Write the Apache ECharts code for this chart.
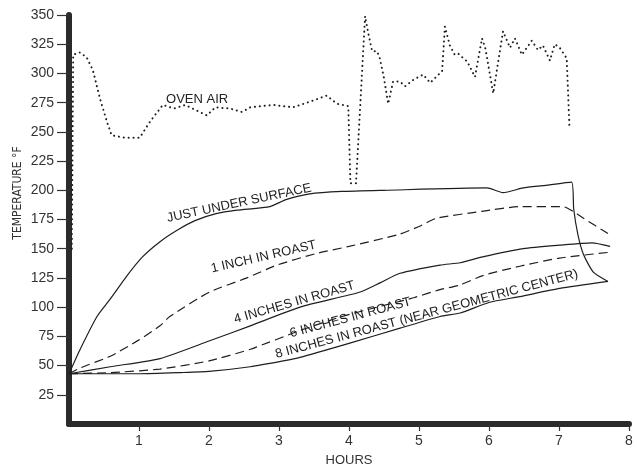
<!DOCTYPE html>
<html>
<head>
<meta charset="utf-8">
<script src="https://cdn.jsdelivr.net/npm/echarts@6/dist/echarts.min.js"></script>
<style>
  html, body { margin: 0; padding: 0; background: #fff; }
  #grafica { width: 637px; height: 470px; }
</style>
</head>
<body>
<div id="grafica"></div>
<script>
// valores: [horas, temperatura F]
const horasTicks = [1, 2, 3, 4, 5, 6, 7, 8];
const tempTicks = [25, 50, 75, 100, 125, 150, 175, 200, 225, 250, 275, 300, 325, 350];

const hornoAire = [[0.04,150],[0.06,316],[0.15,318],[0.25,314],[0.34,303],[0.44,279],[0.54,259],[0.61,247],[0.8,245],[1.01,245],[1.16,259],[1.34,273],[1.5,270],[1.66,273],[1.97,264],[2.09,271],[2.3,270],[2.47,267],[2.59,271],[2.92,273],[3.2,271],[3.45,276],[3.68,281],[3.83,274],[3.99,272],[4.02,206],[4.1,206],[4.23,349],[4.27,336],[4.33,319],[4.4,319],[4.44,313],[4.5,296],[4.56,274],[4.63,293],[4.73,293],[4.8,289],[4.93,295],[5.06,299],[5.16,292],[5.33,302],[5.37,340],[5.44,324],[5.51,316],[5.56,317],[5.69,310],[5.8,297],[5.9,330],[5.95,321],[6.06,283],[6.2,336],[6.3,322],[6.37,330],[6.47,316],[6.61,328],[6.7,320],[6.77,324],[6.87,311],[6.94,325],[7.01,322],[7.11,313],[7.15,253]];
const bajoSuperficie = [[0,43],[0.16,64],[0.4,92],[0.59,107],[0.83,127],[1.05,143],[1.3,156],[1.55,166],[1.8,174],[2.1,180],[2.4,183],[2.87,186],[3.1,192],[3.44,197],[3.9,199],[4.5,200],[5.97,202],[6.2,198],[6.49,202],[6.77,204],[7.18,207],[7.21,184],[7.27,162],[7.35,145],[7.49,130],[7.7,122]];
const unaPulgada = [[0,43],[0.16,48],[0.59,58],[1.0,72],[1.3,84],[1.44,92],[2.01,113],[2.54,125],[2.97,136],[3.54,146],[4.0,152],[4.7,162],[5.0,169],[5.25,176],[5.9,182],[6.44,186],[7.06,186],[7.2,182],[7.35,176],[7.7,163]];
const cuatroPulgadas = [[0,43],[0.59,49],[1.3,56],[2.0,71],[2.59,84],[3.3,100],[4.16,113],[4.45,121],[4.73,129],[5.3,136],[5.59,138],[5.91,143],[6.49,150],[7.01,153],[7.47,155],[7.73,152]];
const seisPulgadas = [[0,43],[0.59,44],[1.3,47],[2.0,54],[2.59,64],[3.3,80],[3.9,92],[4.4,100],[4.92,108],[5.3,115],[5.59,119],[5.91,127],[6.44,135],[7.01,142],[7.73,147]];
const ochoPulgadas = [[0,43],[1.0,43],[1.6,44],[2.0,45],[2.59,49],[3.06,54],[3.3,57],[4.0,69],[4.73,82],[5.3,92],[5.59,95],[6.0,104],[6.44,109],[7.01,116],[7.7,122]];

// etiquetas dentro del grafico (centro en horas/temperatura, giro en grados)
const etiquetas = [
    { texto: 'OVEN AIR', en: [1.83, 278], giro: 0 },
    { texto: 'JUST UNDER SURFACE', en: [2.43, 189], giro: 12 },
    { texto: '1 INCH IN ROAST', en: [2.78, 143], giro: 13 },
    { texto: '4 INCHES IN ROAST', en: [3.22, 104], giro: 16 },
    { texto: '6 INCHES IN ROAST', en: [4.02, 91], giro: 15 },
    { texto: '8 INCHES IN ROAST (NEAR GEOMETRIC CENTER)', en: [5.11, 94], giro: 15 }
];

const negro = '#1e1e1e';
const fuente = '"Liberation Sans", Arial, sans-serif';

const linea = (datos, tipo) => ({
    type: 'line',
    data: datos,
    symbol: 'none',
    smooth: 0.2,
    lineStyle: { color: negro, width: 1.2, type: tipo },
    z: 3
});

const initGrafica = () => {
    const myChart = echarts.init(document.getElementById('grafica'));
    myChart.setOption({
        animation: false,
        grid: { left: 69, right: 8, top: 15, bottom: 46, containLabel: false, outerBoundsMode: 'none' },
        xAxis: {
            type: 'value', min: 0, max: 8, interval: 1,
            offset: 3,
            name: 'HOURS', nameLocation: 'middle', nameGap: 27,
            nameTextStyle: { color: '#333', fontSize: 13, fontFamily: fuente },
            axisLine: { lineStyle: { color: '#2b2b2b', width: 6 } },
            axisTick: { show: true, length: 7, customValues: horasTicks, lineStyle: { color: '#333', width: 1.2 } },
            axisLabel: { customValues: horasTicks, color: '#333', fontSize: 14, fontFamily: fuente, margin: 7 },
            splitLine: { show: false }
        },
        yAxis: {
            type: 'value', min: 0, max: 350, interval: 25,
            axisLine: { show: true, lineStyle: { color: '#2b2b2b', width: 6 } },
            axisTick: { show: true, length: 12, customValues: tempTicks, lineStyle: { color: '#333', width: 1.2 } },
            axisLabel: { customValues: tempTicks, color: '#333', fontSize: 14, fontFamily: fuente, margin: 15 },
            splitLine: { show: false }
        },
        series: [
            {
                type: 'line',
                data: hornoAire,
                symbol: 'none',
                lineStyle: { color: negro, width: 2, type: [0.1, 4.8], cap: 'round' },
                z: 3
            },
            linea(bajoSuperficie, 'solid'),
            linea(unaPulgada, [9, 5]),
            linea(cuatroPulgadas, 'solid'),
            linea(seisPulgadas, [9, 5]),
            linea(ochoPulgadas, 'solid')
        ]
    });

    const textos = etiquetas.map(e => {
        const p = myChart.convertToPixel({ gridIndex: 0 }, e.en);
        return {
            type: 'text', x: p[0], y: p[1], rotation: e.giro * Math.PI / 180,
            style: { text: e.texto, fill: '#222', fontSize: 13, fontFamily: fuente, align: 'center', verticalAlign: 'middle' },
            z: 10
        };
    });
    textos.push({
        type: 'text', x: 18, y: 193, rotation: Math.PI / 2,
        style: { text: 'TEMPERATURE °F', fill: '#333', fontSize: 12, fontFamily: '"Liberation Sans Narrow", "DejaVu Sans Condensed", ' + fuente, align: 'center', verticalAlign: 'middle' }
    });
    myChart.setOption({ graphic: textos });
};

window.addEventListener('load', () => {
    initGrafica();
});
</script>
</body>
</html>
